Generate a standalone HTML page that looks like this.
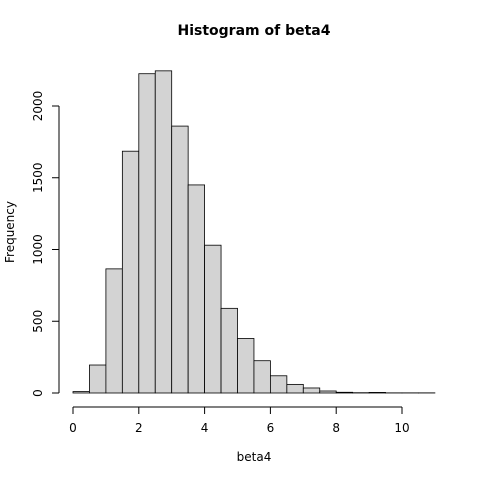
<!DOCTYPE html>
<html><head><meta charset="utf-8"><style>body{margin:0;background:#fff}svg{display:block}</style></head>
<body>
<svg id="chart" width="480" height="480" xmlns="http://www.w3.org/2000/svg" font-family="'DejaVu Sans','Liberation Sans',sans-serif">
<text x="254" y="35" text-anchor="middle" font-size="14" font-weight="bold">Histogram of beta4</text>
<text x="254" y="461" text-anchor="middle" font-size="12">beta4</text>
<text transform="translate(14,232) rotate(-90)" text-anchor="middle" font-size="12">Frequency</text>
<g id="bars"></g><g id="xaxis"></g><g id="yaxis"></g>
</svg>
<script>
const binStarts=[0,0.5,1,1.5,2,2.5,3,3.5,4,4.5,5,5.5,6,6.5,7,7.5,8,8.5,9,9.5,10,10.5];
const counts=[10,195,865,1685,2225,2245,1860,1450,1030,590,380,225,120,60,35,14,5,2,4,1,1,1];
const binWidth=0.5;
const xTicks=[0,2,4,6,8,10];
const yTicks=[0,500,1000,1500,2000];
const NS="http://www.w3.org/2000/svg";
const xs=v=>73+v*32.9, ys=v=>393-v*0.1435;
function mk(t,a,p){const e=document.createElementNS(NS,t);for(const k in a)e.setAttribute(k,a[k]);p.appendChild(e);return e;}
const bars=document.getElementById('bars');
binStarts.forEach((b,i)=>{const r=mk('rect',{x:xs(b),y:ys(counts[i]),width:xs(b+binWidth)-xs(b),height:ys(0)-ys(counts[i]),fill:'#d3d3d3',stroke:'#000','stroke-width':0.8},bars);

});
const xa=document.getElementById('xaxis');
mk('line',{x1:xs(xTicks[0]),x2:xs(xTicks[xTicks.length-1]),y1:407,y2:407,stroke:'#000'},xa);
xTicks.forEach(t=>{mk('line',{x1:xs(t),x2:xs(t),y1:407,y2:414,stroke:'#000'},xa);
const tx=mk('text',{x:xs(t),y:432,'text-anchor':'middle','font-size':12},xa);tx.textContent=t;

});
const ya=document.getElementById('yaxis');
mk('line',{x1:59,x2:59,y1:ys(yTicks[0]),y2:ys(yTicks[yTicks.length-1]),stroke:'#000'},ya);
yTicks.forEach(t=>{mk('line',{x1:52,x2:59,y1:ys(t),y2:ys(t),stroke:'#000'},ya);
const tx=mk('text',{transform:`translate(42,${ys(t)}) rotate(-90)`,'text-anchor':'middle','font-size':12},ya);tx.textContent=t;

});
</script>
</body></html>
